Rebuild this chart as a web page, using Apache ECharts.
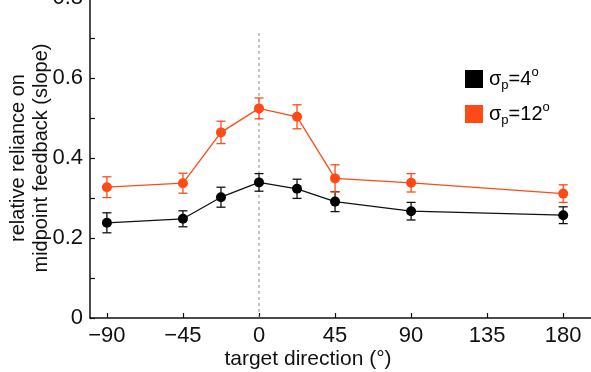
<!DOCTYPE html>
<html>
<head>
<meta charset="utf-8">
<script src="https://cdn.jsdelivr.net/npm/echarts@6/dist/echarts.min.js"></script>
<style>
    html, body { margin: 0; padding: 0; background: #fff; }
    #chart { width: 591px; height: 372px; }
</style>
</head>
<body>
<div id="chart"></div>
<script>
// target directions (deg)
var directions = [-90, -45, -22.5, 0, 22.5, 45, 90, 180];
// sigma_p = 4 deg
var slope4 = [0.238, 0.248, 0.302, 0.339, 0.323, 0.291, 0.267, 0.257];
var err4 = [0.025, 0.02, 0.025, 0.022, 0.024, 0.025, 0.022, 0.021];
// sigma_p = 12 deg
var slope12 = [0.327, 0.337, 0.464, 0.524, 0.503, 0.349, 0.338, 0.311];
var err12 = [0.026, 0.025, 0.028, 0.026, 0.03, 0.034, 0.023, 0.022];

var xTicks = [-90, -45, 0, 45, 90, 135, 180];
var yLabels = ['0', '0.2', '0.4', '0.6', '0.8'];

var black = '#111';
var orange = '#ff4a16';
var font = 'Liberation Sans, Arial, sans-serif';

function pairs(vals) {
    return directions.map(function (d, i) { return [d, vals[i]]; });
}
function bars(vals, errs) {
    return directions.map(function (d, i) { return [d, vals[i] - errs[i], vals[i] + errs[i]]; });
}
function errorBar(color) {
    return function (params, api) {
        var lo = api.coord([api.value(0), api.value(1)]);
        var hi = api.coord([api.value(0), api.value(2)]);
        var w = 4.5;
        var style = { stroke: color, lineWidth: 1.3 };
        return {
            type: 'group',
            children: [
                { type: 'line', shape: { x1: lo[0], y1: lo[1], x2: hi[0], y2: hi[1] }, style: style },
                { type: 'line', shape: { x1: lo[0] - w, y1: lo[1], x2: lo[0] + w, y2: lo[1] }, style: style },
                { type: 'line', shape: { x1: hi[0] - w, y1: hi[1], x2: hi[0] + w, y2: hi[1] }, style: style }
            ]
        };
    };
}

var chart = echarts.init(document.getElementById('chart'));

var legendRich = {
    m: { fontSize: 20, fontFamily: font, color: '#111', lineHeight: 26, verticalAlign: 'middle' },
    sub: { fontSize: 13, fontFamily: font, color: '#111', verticalAlign: 'bottom', lineHeight: 13 },
    sup: { fontSize: 13, fontFamily: font, color: '#111', verticalAlign: 'top', lineHeight: 13 }
};

var option = {
    animation: false,
    backgroundColor: '#fff',
    grid: {
        left: 90,
        top: -2,
        width: 507,
        height: 320,
        containLabel: false,
        outerBoundsMode: 'none'
    },
    xAxis: {
        type: 'value',
        min: -100,
        max: 200,
        splitLine: { show: false },
        axisLine: { onZero: false, lineStyle: { color: '#111', width: 1.5 } },
        axisTick: {
            inside: true,
            length: 5,
            customValues: xTicks,
            lineStyle: { color: '#111', width: 1.2 }
        },
        axisLabel: {
            customValues: xTicks,
            margin: 7,
            color: '#111',
            fontSize: 22,
            fontFamily: font,
            formatter: function (v) { return v < 0 ? '\u2212' + Math.abs(v) : String(v); }
        }
    },
    yAxis: {
        type: 'value',
        min: 0,
        max: 0.8,
        interval: 0.1,
        splitLine: { show: false },
        axisLine: { show: true, onZero: false, lineStyle: { color: '#111', width: 1.5 } },
        axisTick: { show: true, inside: true, length: 5, lineStyle: { color: '#111', width: 1.2 } },
        axisLabel: {
            margin: 7,
            color: '#111',
            fontSize: 22,
            fontFamily: font,
            formatter: function (v) {
                var k = Math.round(v * 10);
                return k % 2 === 0 ? yLabels[k / 2] : '';
            }
        },
        name: 'relative reliance on\nmidpoint feedback (slope)',
        nameLocation: 'middle',
        nameRotate: 90,
        nameGap: 37,
        nameMoveOverlap: false,
        nameTextStyle: { color: '#111', fontSize: 20, fontFamily: font, lineHeight: 23 }
    },
    graphic: [
        {
            type: 'text',
            x: 308,
            y: 359,
            style: {
                text: 'target direction (°)', fontSize: 21, fontFamily: font, fill: '#111',
                align: 'center', verticalAlign: 'middle'
            }
        },
        { type: 'rect', shape: { x: 465, y: 70, width: 18, height: 18 }, style: { fill: '#000' } },
        { type: 'rect', shape: { x: 465, y: 105, width: 18, height: 18 }, style: { fill: orange } },
        {
            type: 'text', x: 489, y: 79,
            style: { text: '{m|σ}{sub|p}{m|=4}{sup|o}', rich: legendRich, verticalAlign: 'middle' }
        },
        {
            type: 'text', x: 489, y: 114,
            style: { text: '{m|σ}{sub|p}{m|=12}{sup|o}', rich: legendRich, verticalAlign: 'middle' }
        }
    ],
    series: [
        {
            type: 'line',
            data: [[0, 0], [0, 0.72]],
            symbol: 'none',
            silent: true,
            lineStyle: { color: '#888', width: 1, type: [3, 3] },
            z: 1
        },
        {
            type: 'line',
            data: pairs(slope4),
            symbol: 'circle',
            symbolSize: 10,
            itemStyle: { color: '#000' },
            lineStyle: { color: black, width: 1.3 },
            z: 3
        },
        {
            type: 'custom',
            data: bars(slope4, err4),
            renderItem: errorBar(black),
            z: 2
        },
        {
            type: 'line',
            data: pairs(slope12),
            symbol: 'circle',
            symbolSize: 10,
            itemStyle: { color: orange },
            lineStyle: { color: orange, width: 1.3 },
            z: 3
        },
        {
            type: 'custom',
            data: bars(slope12, err12),
            renderItem: errorBar(orange),
            z: 2
        }
    ]
};

chart.setOption(option);
</script>
</body>
</html>
